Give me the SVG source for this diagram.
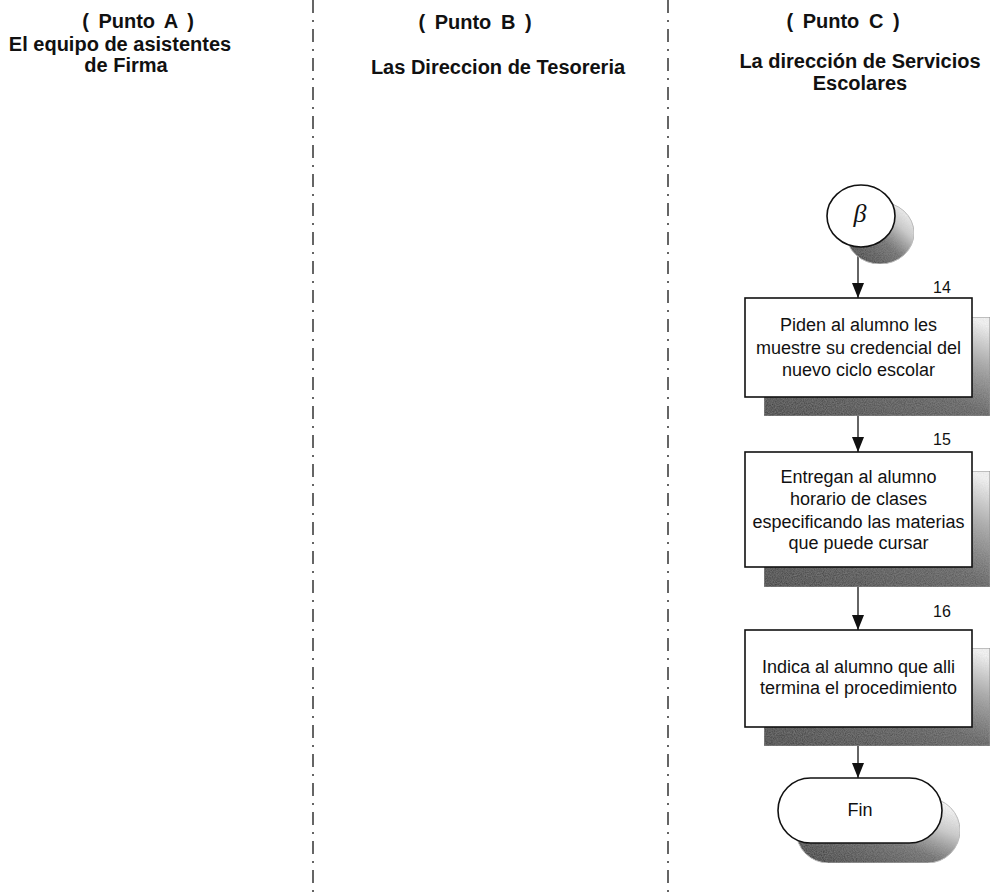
<svg xmlns="http://www.w3.org/2000/svg" width="995" height="894" viewBox="0 0 995 894">
<defs>
<linearGradient id="shadowGrad" x1="0" y1="1" x2="0.9" y2="0">
<stop offset="0" stop-color="#2e2e2e"/>
<stop offset="0.5" stop-color="#555"/>
<stop offset="0.78" stop-color="#aaa"/>
<stop offset="1" stop-color="#f6f6f6"/>
</linearGradient>
<linearGradient id="roundGrad" x1="0.1" y1="0.9" x2="0.9" y2="0.1">
<stop offset="0" stop-color="#2e2e2e"/>
<stop offset="0.45" stop-color="#666"/>
<stop offset="0.75" stop-color="#ccc"/>
<stop offset="1" stop-color="#fbfbfb"/>
</linearGradient>
<filter id="grain" x="0" y="0" width="1" height="1">
<feTurbulence type="fractalNoise" baseFrequency="0.9" numOctaves="2" seed="3" result="n"/>
<feColorMatrix in="n" type="matrix" values="0 0 0 0 0.5  0 0 0 0 0.5  0 0 0 0 0.5  0 0 0 0.35 0" result="g"/>
<feComposite in="g" in2="SourceGraphic" operator="in" result="gi"/>
<feMerge><feMergeNode in="SourceGraphic"/><feMergeNode in="gi"/></feMerge>
</filter>
<marker id="arrow" markerWidth="15" markerHeight="12" refX="15" refY="6" orient="auto" markerUnits="userSpaceOnUse" viewBox="0 0 15 12">
<path d="M0,0 L15,6 L0,12 Z" fill="#111"/>
</marker>
</defs>
<style>
.hdr{font-family:"Liberation Sans",Arial,sans-serif;font-weight:bold;font-size:20px;fill:#111;text-anchor:middle}
.pt{word-spacing:4px}
.txt{font-family:"Liberation Sans",Arial,sans-serif;font-size:18px;fill:#111;text-anchor:middle}
.num{font-family:"Liberation Sans",Arial,sans-serif;font-size:16px;fill:#111;text-anchor:middle}
.box{fill:#fff;stroke:#111;stroke-width:1.6}
.shadow{fill:url(#shadowGrad);stroke:#888;stroke-width:1;filter:url(#grain)}
.rshadow{fill:url(#roundGrad);stroke:#bbb;stroke-width:1;filter:url(#grain)}
.divider{stroke:#333;stroke-width:1.5;stroke-dasharray:13 7 2 7;fill:none}
.conn{stroke:#111;stroke-width:1.3;fill:none;marker-end:url(#arrow)}
</style>
<rect width="995" height="894" fill="#fff"/>

<g id="lanes">
<line class="divider" x1="313" y1="0" x2="313" y2="894"/>
<line class="divider" x1="668" y1="0" x2="668" y2="894"/>
</g>

<g id="headerA">
<text class="hdr pt" x="138" y="28">( Punto A )</text>
<text class="hdr" x="120" y="51">El equipo de asistentes</text>
<text class="hdr" x="126" y="72">de Firma</text>
</g>
<g id="headerB">
<text class="hdr pt" x="475" y="29">( Punto B )</text>
<text class="hdr" x="498" y="74">Las Direccion de Tesoreria</text>
</g>
<g id="headerC">
<text class="hdr pt" x="843" y="28">( Punto C )</text>
<text class="hdr" x="860" y="68">La dirección de Servicios</text>
<text class="hdr" x="860" y="90">Escolares</text>
</g>

<g id="connectors">
<line class="conn" x1="858" y1="247" x2="858" y2="298"/>
<line class="conn" x1="858" y1="397" x2="858" y2="452"/>
<line class="conn" x1="858" y1="567" x2="858" y2="630"/>
<line class="conn" x1="858" y1="727" x2="858" y2="778"/>
</g>

<g id="start">
<ellipse class="rshadow" cx="880" cy="233" rx="34" ry="31"/>
<ellipse class="box" cx="861" cy="216" rx="34" ry="31"/>
<text x="860" y="222" style="font-family:'Liberation Serif','Times New Roman',serif;font-style:italic;font-size:26px;fill:#111;text-anchor:middle">β</text>
</g>

<g id="step14">
<rect class="shadow" x="764" y="317" width="226" height="99"/>
<rect class="box" x="745" y="298" width="227" height="99"/>
<text class="num" x="942" y="293">14</text>
<text class="txt" x="858.5" y="331">Piden al alumno les</text>
<text class="txt" x="858.5" y="354">muestre su credencial del</text>
<text class="txt" x="858.5" y="376">nuevo ciclo escolar</text>
</g>

<g id="step15">
<rect class="shadow" x="764" y="471" width="226" height="116"/>
<rect class="box" x="745" y="452" width="227" height="115"/>
<text class="num" x="942" y="445">15</text>
<text class="txt" x="858.5" y="483">Entregan al alumno</text>
<text class="txt" x="858.5" y="505">horario de clases</text>
<text class="txt" x="858.5" y="528">especificando las materias</text>
<text class="txt" x="858.5" y="549">que puede cursar</text>
</g>

<g id="step16">
<rect class="shadow" x="764" y="648" width="226" height="98"/>
<rect class="box" x="745" y="630" width="227" height="97"/>
<text class="num" x="942" y="617">16</text>
<text class="txt" x="858.5" y="673">Indica al alumno que alli</text>
<text class="txt" x="858.5" y="694">termina el procedimiento</text>
</g>

<g id="end">
<rect class="rshadow" x="796" y="798" width="164" height="65" rx="32.5" ry="32.5"/>
<rect class="box" x="778" y="778" width="164" height="65" rx="32.5" ry="32.5"/>
<text class="txt" x="860" y="816">Fin</text>
</g>
</svg>
